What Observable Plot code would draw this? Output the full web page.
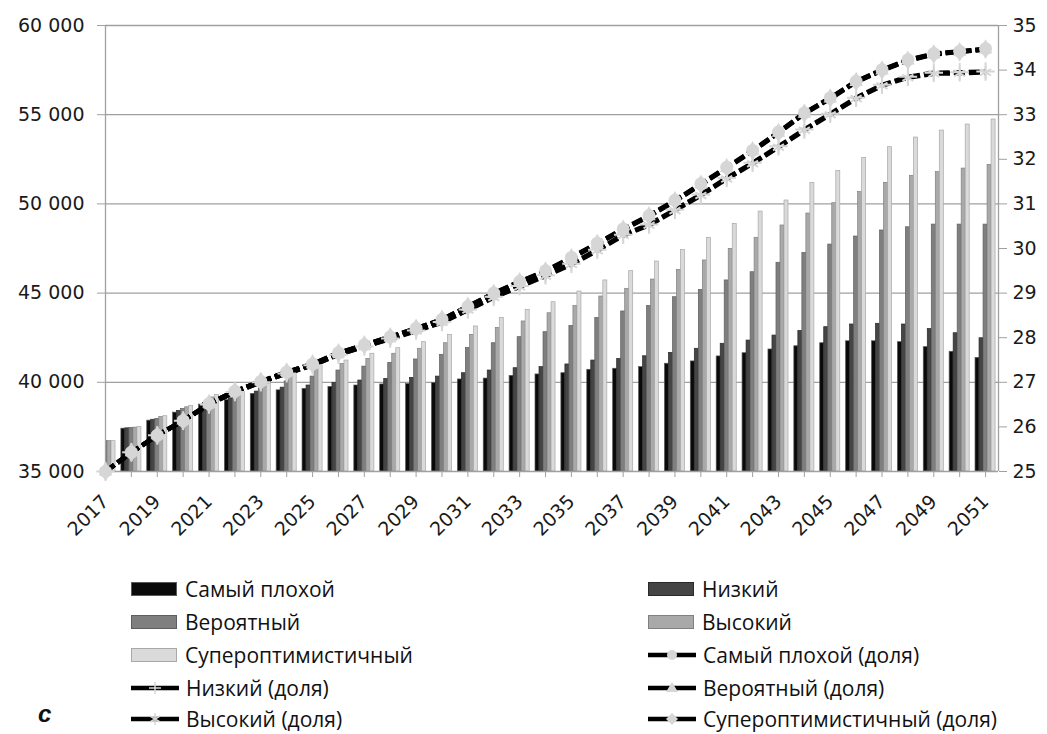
<!DOCTYPE html>
<html>
<head>
<meta charset="utf-8">
<script src="https://cdn.jsdelivr.net/npm/d3@7"></script>
<script src="https://cdn.jsdelivr.net/npm/@observablehq/plot@0.6"></script>
<style>
  html, body { margin: 0; padding: 0; background: #fff; }
  #page { position: relative; width: 1047px; height: 734px; overflow: hidden; }
  #chart svg { display: block; }
  .lg { position: absolute; display: flex; align-items: center; height: 24px;
        font-family: "Open Sans", sans-serif; font-size: 21px; line-height: 24px; color: #111; white-space: nowrap; }
  .sw { width: 46px; height: 14px; box-sizing: border-box; margin-right: 8px; }
  .lsw { width: 48px; height: 18px; margin-right: 7px; }
  #panel { position: absolute; left: 38px; top: 700px; font-family: "Liberation Sans", Arial, sans-serif;
           font-weight: bold; font-style: italic; font-size: 24px; color: #111; }
</style>
</head>
<body>
<div id="page">
  <div id="chart"></div>
  <div id="legend"></div>
  <div id="panel">c</div>
</div>
<script>
// ---- data ----
const years = [2017,2018,2019,2020,2021,2022,2023,2024,2025,2026,2027,2028,2029,2030,2031,2032,2033,2034,2035,2036,2037,2038,2039,2040,2041,2042,2043,2044,2045,2046,2047,2048,2049,2050,2051];
const labelYears = [2017,2019,2021,2023,2025,2027,2029,2031,2033,2035,2037,2039,2041,2043,2045,2047,2049,2051];
const barNames = ["Самый плохой","Низкий","Вероятный","Высокий","Супероптимистичный"];
const lineNames = ["Самый плохой (доля)","Низкий (доля)","Вероятный (доля)","Высокий (доля)","Супероптимистичный (доля)"];

const worst    = [36700,37400,37850,38300,38750,39000,39350,39550,39630,39740,39820,39880,39900,39950,40160,40210,40360,40440,40510,40700,40760,40850,41040,41170,41450,41630,41840,42020,42190,42300,42300,42250,41970,41710,41370];
const low      = [36700,37420,37900,38400,38850,39100,39480,39700,39820,39970,40100,40190,40250,40320,40510,40660,40790,40850,41000,41220,41310,41460,41650,41880,42160,42340,42620,42880,43090,43240,43280,43240,42990,42750,42470];
const likely   = [36700,37440,37950,38500,39000,39200,39650,40050,40320,40660,40880,41090,41280,41540,41930,42190,42530,42810,43160,43610,43970,44280,44770,45180,45710,46170,46700,47250,47720,48170,48510,48690,48840,48840,48840];
const high     = [36700,37460,38050,38600,39150,39350,39800,40350,40750,41030,41310,41600,41880,42190,42660,43050,43410,43870,44270,44810,45240,45760,46300,46830,47480,48100,48790,49460,50040,50660,51180,51570,51780,51980,52190];
const superopt = [36700,37500,38100,38680,39280,39450,39900,40500,40940,41220,41600,41910,42250,42660,43130,43610,44060,44490,45090,45710,46230,46770,47420,48100,48880,49570,50190,51180,51850,52580,53180,53720,54110,54450,54730];

const shareWorst  = [25.00,25.43,25.81,26.14,26.52,26.80,27.02,27.23,27.41,27.66,27.84,28.02,28.21,28.41,28.70,29.00,29.26,29.50,29.80,30.12,30.44,30.74,31.08,31.45,31.82,32.20,32.61,33.04,33.38,33.75,34.01,34.23,34.37,34.42,34.48];
const shareLow    = [25.00,25.43,25.81,26.14,26.50,26.78,27.00,27.20,27.38,27.62,27.80,27.98,28.16,28.35,28.63,28.92,29.16,29.40,29.66,29.97,30.31,30.54,30.87,31.21,31.58,31.92,32.29,32.67,33.02,33.38,33.67,33.85,33.94,33.95,33.97];
const shareLikely = [25.00,25.43,25.81,26.14,26.52,26.80,27.02,27.23,27.40,27.65,27.83,28.01,28.20,28.40,28.69,28.98,29.24,29.48,29.78,30.10,30.42,30.72,31.06,31.43,31.80,32.18,32.59,33.02,33.36,33.73,33.99,34.21,34.35,34.41,34.46];
const shareHigh   = [25.00,25.43,25.81,26.14,26.50,26.78,27.00,27.20,27.38,27.62,27.80,27.97,28.15,28.34,28.62,28.90,29.14,29.38,29.64,29.95,30.29,30.52,30.85,31.19,31.56,31.90,32.27,32.65,33.00,33.36,33.65,33.83,33.92,33.93,33.95];
const shareSuper  = [25.00,25.43,25.81,26.14,26.52,26.80,27.02,27.23,27.41,27.66,27.84,28.02,28.21,28.41,28.70,28.99,29.25,29.49,29.79,30.11,30.43,30.73,31.07,31.44,31.81,32.19,32.60,33.03,33.37,33.74,34.00,34.22,34.36,34.41,34.47];

const leftTicks  = [35000,40000,45000,50000,55000,60000];
const rightTicks = [25,26,27,28,29,30,31,32,33,34,35];

// ---- styles ----
const barColors  = ["#0a0a0a","#454545","#7f7f7f","#a9a9a9","#dadada"];
const barStrokes = ["#5a5a5a","#2a2a2a","#5f5f5f","#808080","#a8a8a8"];
const markerFill = "#d6d6d6";
const symbols = ["circle","plus","triangle","asterisk","diamond"];
const dotOrder = [1, 2, 4, 3, 0]; // drawing order of marker series
const axisGray = "#a0a0a0";

// ---- build tables ----
const barSeries = [worst, low, likely, high, superopt];
const shareSeries = [shareWorst, shareLow, shareLikely, shareHigh, shareSuper];
const barW = 0.155; // width of one bar in years
const bars = [];
years.forEach((yr, j) => {
  barSeries.forEach((arr, i) => {
    bars.push({year: yr, series: barNames[i], i, x1: yr + (i - 2.5) * barW, x2: yr + (i - 1.5) * barW, value: arr[j]});
  });
});
// right axis share -> left axis units
const toY = s => 35000 + (s - 25) * 2500;
const fromY = v => (v - 35000) / 2500 + 25;
const lines = [];
shareSeries.forEach((arr, i) => {
  years.forEach((yr, j) => lines.push({year: yr, series: lineNames[i], i, v: toY(arr[j])}));
});
const fmt = d => String(d).replace(/\B(?=(\d{3})+(?!\d))/g, " ");

const dotMarks = dotOrder.map(i => {
  const sym = symbols[i];
  const data = lines.filter(d => d.i === i);
  const strokeSym = sym === "plus" || sym === "asterisk";
  return Plot.dot(data, {
    x: "year", y: "v", symbol: () => sym, r: sym === "circle" ? 6.5 : (sym === "triangle" ? 5 : 6),
    fill: strokeSym ? "none" : markerFill,
    stroke: strokeSym ? markerFill : "none",
    strokeWidth: strokeSym ? 2 : 0
  });
});

const chart = Plot.plot({
  width: 1047, height: 550,
  marginLeft: 105, marginRight: 49, marginTop: 25, marginBottom: 79,
  x: {domain: [2017, 2051.5], axis: null},
  y: {domain: [35000, 60000], axis: null},
  color: {domain: barNames, range: barColors},
  symbol: {domain: symbols, range: symbols},
  style: {fontFamily: "DejaVu Sans, sans-serif", fontSize: "19px", color: "#1a1a1a", background: "#fff", overflow: "visible"},
  marks: [
    Plot.ruleY(leftTicks.slice(1), {stroke: axisGray, strokeWidth: 1.3}),
    Plot.rect(bars, {x1: "x1", x2: "x2", y1: 35000, y2: "value", fill: "series",
      stroke: d => barStrokes[d.i], strokeWidth: 0.7, clip: true}),
    Plot.ruleX([2017], {stroke: axisGray, strokeWidth: 1.3}),
    Plot.ruleX([2051.5], {stroke: axisGray, strokeWidth: 1.3}),
    Plot.ruleY([35000], {stroke: axisGray, strokeWidth: 1.3}),
    Plot.axisY({ticks: leftTicks, tickSize: 8, tickPadding: 13, tickFormat: fmt, stroke: axisGray, fill: "#1a1a1a", label: null}),
    Plot.axisY({anchor: "right", ticks: rightTicks.map(toY), tickSize: 8, tickPadding: 6,
      tickFormat: d => String(Math.round(fromY(d))), stroke: axisGray, fill: "#1a1a1a", label: null}),
    Plot.axisX({ticks: years, tickSize: 6, tickFormat: () => "", stroke: axisGray, label: null}),
    Plot.axisX({ticks: labelYears, tickSize: 0, tickPadding: 20, dy: 7, tickRotate: -45, tickFormat: d => String(d), fill: "#1a1a1a", label: null}),
    Plot.line(lines, {x: "year", y: "v", z: "series", stroke: "#000", strokeWidth: 4.5,
      strokeDasharray: "11,4", strokeLinecap: "butt"}),
    ...dotMarks
  ]
});
document.getElementById("chart").appendChild(chart);

// ---- legend (HTML) ----
const legend = document.getElementById("legend");
const rowY = [589, 621.5, 654.5, 687.5, 719];
const leftX = 131, rightX = 648;
function markerSvg(sym) {
  const c = markerFill;
  let m = "";
  if (sym === "circle") m = `<circle cx="24" cy="9" r="5" fill="${c}"/>`;
  if (sym === "triangle") m = `<path d="M24,3 L30,13 L18,13 Z" fill="${c}"/>`;
  if (sym === "diamond") m = `<path d="M24,3 L30,9 L24,15 L18,9 Z" fill="${c}"/>`;
  if (sym === "plus") m = `<path d="M24,3 V15 M18,9 H30" stroke="${c}" stroke-width="1.5"/>`;
  if (sym === "asterisk") m = `<path d="M24,3 V15 M19,6 L29,12 M19,12 L29,6" stroke="${c}" stroke-width="1.5"/>`;
  return `<svg class="lsw" viewBox="0 0 48 18"><line x1="0" y1="9" x2="48" y2="9" stroke="#000" stroke-width="4.5"/>${m}</svg>`;
}
const items = [];
barNames.forEach((n, i) => items.push({label: n, html: `<div class="sw" style="background:${barColors[i]};border:1px solid ${barStrokes[i]}"></div>`}));
lineNames.forEach((n, i) => items.push({label: n, html: markerSvg(symbols[i])}));
items.forEach((it, k) => {
  const col = k % 2, row = Math.floor(k / 2);
  const div = document.createElement("div");
  div.className = "lg";
  div.style.left = (col === 0 ? leftX : rightX) + "px";
  div.style.top = (rowY[row] - 12) + "px";
  div.innerHTML = it.html + `<span>${it.label}</span>`;
  legend.appendChild(div);
});
</script>
</body>
</html>
